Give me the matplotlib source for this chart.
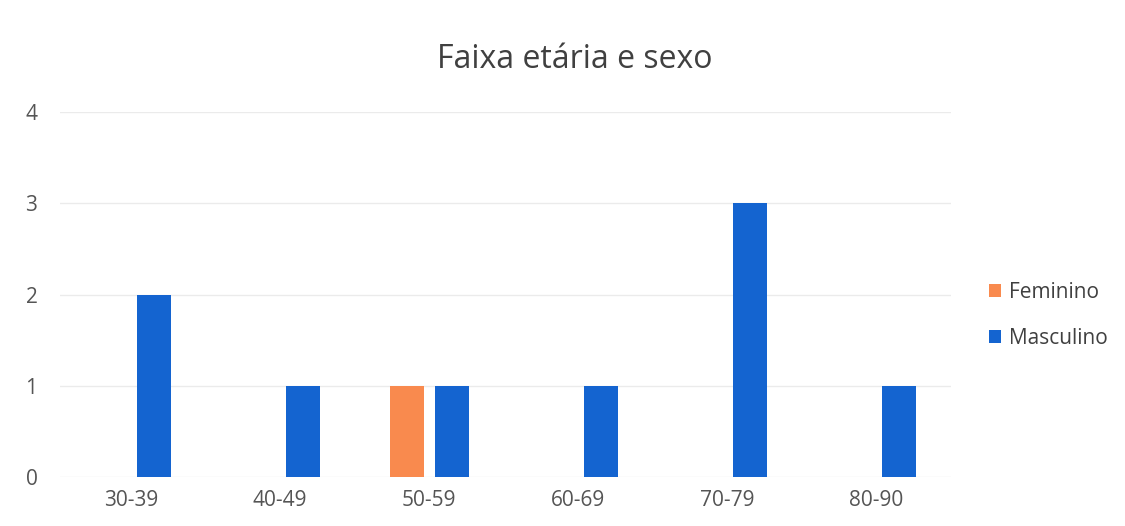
import numpy as np
import matplotlib.pyplot as plt

plt.rcParams['font.family'] = ['Open Sans', 'DejaVu Sans']

categorias = ['30-39', '40-49', '50-59', '60-69', '70-79', '80-90']
feminino = [0, 0, 1, 0, 0, 0]
masculino = [2, 1, 1, 1, 3, 1]

x = np.arange(len(categorias))
w = 0.23

fig = plt.figure(figsize=(11.25, 5.26), dpi=100)
ax = fig.add_axes([0.053, 0.093, 0.792, 0.694])

ax.bar(x - 0.15, feminino, w, color='#F98A4E', label='Feminino', zorder=3)
ax.bar(x + 0.155, masculino, w, color='#1464D0', label='Masculino', zorder=3)

ax.set_xlim(-0.48, 5.5)
ax.set_ylim(0, 4)
ax.set_yticks([0, 1, 2, 3, 4])
ax.set_xticks(x)
ax.set_xticklabels(categorias)
ax.yaxis.grid(True, color='#EBEBEB', linewidth=1, zorder=0)
for s in ax.spines.values():
    s.set_visible(False)
ax.tick_params(length=0, labelsize=15, colors='#555555')
ax.tick_params(axis='y', pad=16)
ax.tick_params(axis='x', pad=9)

fig.text(0.511, 0.886, 'Faixa etária e sexo', fontsize=23, color='#404040',
         ha='center', va='center')

fig.legend(loc='center left', bbox_to_anchor=(0.862, 0.40), frameon=False,
           fontsize=15, handlelength=0.6, handleheight=0.6, handletextpad=0.4,
           labelspacing=1.2, labelcolor='#404040')

fig.savefig('out.png', dpi=100)
